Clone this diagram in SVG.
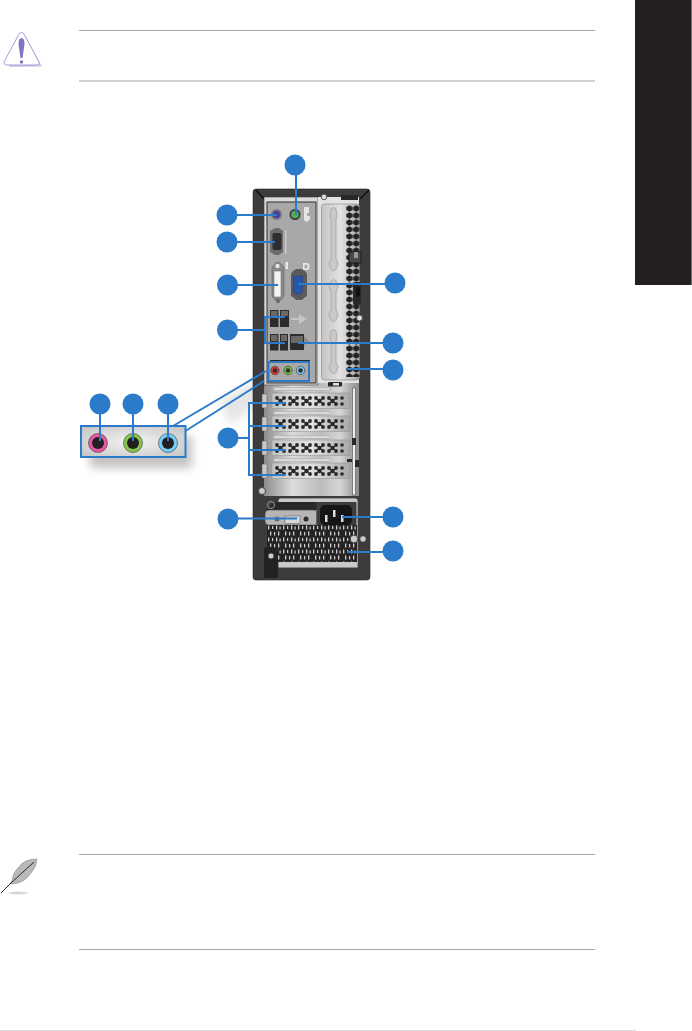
<svg xmlns="http://www.w3.org/2000/svg" width="692" height="1031" viewBox="0 0 692 1031">
<style>
.c{fill:#2b7bca}
.l{fill:none;stroke:#2b7bca;stroke-width:2}
.r{stroke:#a7a5a6;stroke-width:1;fill:none}
.d{fill:#2a2728}
</style>
<defs>
<linearGradient id="m" x1="0" x2="1" y1="0" y2="0"><stop offset="0" stop-color="#8f8e8e"/><stop offset=".3" stop-color="#dcdcdc"/><stop offset=".6" stop-color="#bcbcbc"/><stop offset=".8" stop-color="#d6d6d6"/><stop offset="1" stop-color="#8b8a8a"/></linearGradient>
<linearGradient id="s" x1="0" x2="1" y1="0" y2="0"><stop offset="0" stop-color="#c4c4c4"/><stop offset=".5" stop-color="#e2e2e2"/><stop offset="1" stop-color="#a8a8a8"/></linearGradient>
<radialGradient id="a" cx=".5" cy=".5" r=".7"><stop offset="0" stop-color="#f4f4f4"/><stop offset="1" stop-color="#c4c4c4"/></radialGradient>
<filter id="b" x="-20%" y="-40%" width="140%" height="180%"><feGaussianBlur stdDeviation="5"/></filter>
<pattern id="g" x="267" y="525" width="15" height="12" patternUnits="userSpaceOnUse"><rect width="15" height="12" fill="#262324"/><g fill="#cfcfcf"><rect x="1" y=".5" width="1.300" height="4"/><rect x="5" y="1" width="1.200" height="3"/><rect x="9" y=".5" width="1.300" height="4"/><rect x="12.500" y="1.500" width="1.200" height="3"/><rect x="3" y="6.500" width="1.300" height="4"/><rect x="7" y="7" width="1.200" height="3.500"/><rect x="11" y="6.500" width="1.300" height="4"/></g></pattern>
<pattern id="h" x="346" y="205" width="6.800" height="7" patternUnits="userSpaceOnUse"><path d="M3.400 .2L6.500 2V5L3.400 6.800L.3 5V2z" fill="#252223"/></pattern>
<g id="clu"><circle cx="0" cy="-3" r="1.900"/><circle cx="0" cy="3" r="1.900"/><circle cx="3.500" cy="0" r="2.300"/><circle cx="7" cy="-3" r="1.900"/><circle cx="7" cy="3" r="1.900"/><path d="M0-3L7 3M7-3L0 3" stroke="#2a2728"/></g>
<g id="slotv"><rect x="0" y="0" width="78" height="15.500" rx="1" fill="url(#s)" stroke="#8a8a8a" stroke-width=".5"/>
<g class="d"><use href="#clu" x="5" y="8"/><use href="#clu" x="18" y="8"/><use href="#clu" x="31" y="8"/><use href="#clu" x="44" y="8"/><use href="#clu" x="57" y="8"/><circle cx="70" cy="5" r="1.800"/><circle cx="70" cy="11" r="1.800"/></g></g>
<g id="tab"><rect width="5" height="14" rx="1" fill="#c9c9c9" stroke="#6a6a6a" stroke-width=".6"/></g>
<g id="rail"><path d="M0 1.500h54a1.500 1.500 0 0 1 0 3H0a1.500 1.500 0 0 1 0-3z" fill="#d9d9d9" stroke="#a3a3a3" stroke-width=".5"/></g>
</defs>

<rect width="692" height="1031" fill="#fff"/>
<g id="tab-side"><rect x="635" y="0" width="56" height="285" fill="#231f20"/><rect x="691" y="0" width="1" height="285" fill="#6d6b6c"/></g>
<g id="rules"><path class="r" d="M79 30.500H595M79 81H595M79 854.500H595M79 949.500H595"/><path d="M0 1030.500H636" stroke="#dcdcdc" fill="none"/></g>

<g id="warning-icon">
<path d="M24 34L42 66.500L9 67z" fill="#cfcbe6"/>
<path d="M21.500 32.500Q19.500 32.500 18.500 35L4.500 61Q3 65 7 65L37 65Q40 64.500 38.500 61L24.500 35Q23.500 32.500 21.500 32.500z" fill="#fff" stroke="#8e86c9" stroke-width=".8"/>
<path d="M21.500 38Q18.500 38 18.500 44L20.500 58H22.500L24.500 44Q24.500 38 21.500 38z" fill="#7d74c2"/>
<circle cx="21.500" cy="62" r="1.700" fill="#7d74c2"/>
</g>
<g id="note-icon">
<path d="M7 893q11-3 22 0q-10 3-22 0z" fill="#d5d5d5"/>
<path d="M37 859Q24 859 19 867Q13 872 12 881Q9 884 11 884Q24 884 31 873Q37 866 37 859z" fill="#b9b9b9" stroke="#8d8d8d" stroke-width=".6"/>
<path d="M1 893L12 882L34 862" stroke="#2a2728" stroke-width="1" fill="none"/>
</g>

<g id="audio-inset">
<rect x="90" y="436" width="102" height="32" fill="#9a9a9a" opacity=".6" filter="url(#b)"/>
<rect x="82" y="426.500" width="103.500" height="30.500" fill="url(#a)"/>
<circle cx="98" cy="443" r="9.500" fill="#e8569f" stroke="#3a3a3a" stroke-width=".6"/><circle cx="98" cy="443" r="6" fill="#231f20"/>
<circle cx="133" cy="443" r="9.500" fill="#86c64a" stroke="#3a3a3a" stroke-width=".6"/><circle cx="133" cy="443" r="6" fill="#231f20"/>
<circle cx="168" cy="443" r="9.500" fill="#76cdf2" stroke="#3a3a3a" stroke-width=".6"/><circle cx="168" cy="443" r="6" fill="#231f20"/>
</g>

<g id="chassis">
<path d="M220 400L262 378L268 398L230 425z" fill="#b5b5b5" opacity=".35" filter="url(#b)"/>
<rect x="253" y="189" width="117" height="391" rx="3" fill="#3d3b3c" stroke="#2a2829" stroke-width=".6"/>
<path d="M256 190l8 9M369 190l-9 9" stroke="#111" stroke-width="1.500"/>
<rect x="264" y="197" width="95" height="299" fill="url(#m)"/>
<rect x="264" y="197" width="54" height="188" fill="#d9d9d9" stroke="#3a3a3a" stroke-width=".6"/>
<rect x="267" y="202" width="49" height="181" fill="#a9a8a8" stroke="#232122" stroke-width=".9"/>
<rect x="318" y="197" width="41" height="186" fill="#e3e3e3"/>
<rect x="321.500" y="204" width="38" height="176" rx="3" fill="url(#s)" stroke="#858585" stroke-width=".6"/>
<rect x="341" y="195" width="17" height="5" fill="#2a2728"/>
<circle cx="324" cy="197" r="2.800" fill="#ddd" stroke="#5a5a5a"/>
<g fill="#c9c9c9" stroke="#969696" stroke-width=".6">
<path d="M331 209q2.500-3 5 0l1 7-1 3v40l2 5-2 5q-2.500 4-5 0l-2-5 2-5v-40l-1-3z"/>
<path d="M331 281q2.500-3 5 0l2 6-2 5v18l2 5-2 5q-2.500 4-5 0l-2-5 2-5v-18l-2-5z"/>
<path d="M331 331q2.500-3 5 0l1 7-1 3v21l2 5-2 5q-2.500 4-5 0l-2-5 2-5v-21l-1-3z"/>
</g>
<rect x="346" y="205" width="13.600" height="172" fill="url(#h)"/>
<path d="M349 252h12v11h-12z" fill="#4a4849" stroke="#1d1b1c"/>
<rect x="354" y="252" width="4" height="6" fill="#999"/>
<rect x="353" y="282" width="8" height="23" rx="2" fill="#2a2728"/><rect x="356" y="287" width="4" height="10" rx="2" fill="#111"/>
<circle cx="359.500" cy="318" r="3" fill="#e0e0e0" stroke="#4a4a4a"/>
<rect x="328" y="382" width="14" height="4.500" rx="1" fill="#2a2728"/>
<rect x="333" y="383" width="6" height="2.500" fill="#ddd"/>

<circle cx="276.500" cy="214.500" r="5.500" fill="#7c7a7b"/><circle cx="276.500" cy="214.500" r="3.800" fill="#4a3f9c"/>
<circle cx="295" cy="214.500" r="5.500" fill="#3d3b3c"/><circle cx="295" cy="214.500" r="3.800" fill="#52b052"/>
<path d="M304 207h5v6h-2v3h3v3l-3 3-3-2z" fill="#e5e5e5"/>
<path d="M270 231l5-3h4l4 3v21l-4 3h-4l-5-3z" fill="#6d6c6c"/>
<rect x="272.500" y="233" width="9" height="17" rx="2" fill="#2f2d2e"/>
<rect x="285" y="230" width="1.500" height="24" fill="#c8c8c8"/>
<path d="M272 267l4-4q2-2 4 0l4 4v29l-3 4h-6l-3-4z" fill="#8c8b8b" stroke="#5a5a5a" stroke-width=".5"/>
<rect x="274" y="271" width="7" height="26" fill="#f3f3f3" stroke="#666" stroke-width=".5"/>
<circle cx="277.500" cy="266" r="2.200" fill="#e5e5e5"/>
<rect x="285.500" y="262" width="2.500" height="7" fill="#e9e9e9"/>
<path d="M303 263h3q3.500 0 3.500 3.500T306 270h-3zm1.500 1.500v4h1.500q2 0 2-2t-2-2z" fill="#ececec"/>
<path d="M293 271l3-2h6l3 2 2 3v22l-3 2-2 2h-6l-2-2-3-2v-22z" fill="#5c5a5b"/>
<path d="M293.500 276h9v15l-2 3h-5l-2-3z" fill="#2a56a8" stroke="#1d3d80" stroke-width=".5"/>

<rect x="270" y="310" width="8.500" height="17" fill="#2d2b2c"/><rect x="280" y="310" width="9" height="17" fill="#2d2b2c"/>
<rect x="271" y="311" width="6.500" height="5" fill="#6a6868"/><rect x="281" y="311" width="7" height="5" fill="#6a6868"/>
<rect x="270" y="334" width="8.500" height="16.500" fill="#2d2b2c"/><rect x="280" y="334" width="8" height="16.500" fill="#2d2b2c"/>
<rect x="271" y="335" width="6.500" height="6" fill="#6a6868"/><rect x="281" y="335" width="6" height="6" fill="#6a6868"/>
<path d="M291 319h9M300 316l5 3-5 3z" stroke="#c6c6c6" stroke-width="2" fill="#c6c6c6"/>
<rect x="290" y="334" width="14" height="16" fill="#2d2b2c"/>
<rect x="291" y="336" width="12" height="7" fill="#6a6868"/>
<path d="M304 336l5 5-5 5z" fill="#8f8f8f"/>
<circle cx="278" cy="301" r="2" fill="#666"/>
<rect x="270" y="360" width="40" height="2" fill="#2a2728"/>
<circle cx="275" cy="370.500" r="4.200" fill="#e03b3b" stroke="#333" stroke-width=".6"/><circle cx="275" cy="370.500" r="2.300" fill="#312e2f"/>
<circle cx="288" cy="370.500" r="4.200" fill="#7ac143" stroke="#333" stroke-width=".6"/><circle cx="288" cy="370.500" r="2.300" fill="#312e2f"/>
<circle cx="300.500" cy="370.500" r="4.200" fill="#76cdf2" stroke="#333" stroke-width=".6"/><circle cx="300.500" cy="370.500" r="2.300" fill="#312e2f"/>

<use href="#rail" x="275" y="386"/><use href="#rail" x="275" y="410"/><use href="#rail" x="275" y="434"/><use href="#rail" x="275" y="457"/>
<use href="#tab" x="262" y="394"/><use href="#tab" x="262" y="417"/><use href="#tab" x="262" y="441"/><use href="#tab" x="262" y="464"/>
<use href="#slotv" x="272" y="393"/><use href="#slotv" x="272" y="416"/><use href="#slotv" x="272" y="440"/><use href="#slotv" x="272" y="463"/>
<path d="M352.500 388h3v107h-3z" fill="#eee" stroke="#4a4a4a" stroke-width=".6"/>
<rect x="352" y="438" width="4" height="7" fill="#2a2728"/><rect x="355" y="460" width="4" height="7" fill="#2a2728"/><rect x="347" y="459" width="5" height="3" fill="#2a2728"/>
<rect x="264" y="496" width="95" height="72" fill="#3d3b3c"/>
<rect x="278" y="498" width="80" height="72" rx="3" fill="#c9c9c9" stroke="#444" stroke-width=".8"/>
<path d="M266 510l8-8h43v8z" fill="#2a2728"/>
<rect x="265" y="510" width="52" height="15" rx="4" fill="#b5b5b5" stroke="#444" stroke-width=".6"/>
<rect x="285" y="516" width="15" height="7.500" fill="#d8d8d8" stroke="#555" stroke-width=".5"/>
<circle cx="277" cy="519" r="2.500" fill="#666"/><circle cx="306" cy="519" r="2.500" fill="#2f2d2e"/>
<rect x="316.500" y="502" width="40" height="26" fill="#3d3b3c"/>
<rect x="320" y="505" width="32" height="20" rx="5" fill="#161415"/>
<rect x="325" y="515" width="2.500" height="7" fill="#ddd"/><rect x="333" y="510" width="2.500" height="7" fill="#ddd"/><rect x="341" y="515" width="2.500" height="7" fill="#ddd"/>
<rect x="267" y="525" width="90" height="37" fill="url(#g)"/>
<circle cx="354" cy="539" r="3.800" fill="#ccc" stroke="#444" stroke-width=".9"/><circle cx="363" cy="539" r="3" fill="#ccc" stroke="#555" stroke-width=".6"/>
<path d="M264 552q4-4 9-4 5 0 5 6v24h-14z" fill="#232122"/>
<circle cx="271" cy="556" r="3" fill="#ccc" stroke="#444"/>
<rect x="264" y="568" width="95" height="10" fill="#3d3b3c"/><path d="M278 568H358" stroke="#444"/>
<path d="M264 548q4-2 9-1 5 1 5 7v24h-14z" fill="#232122"/><circle cx="271" cy="556" r="3" fill="#ccc" stroke="#444"/>
<circle cx="262" cy="491" r="3.500" fill="#ccc" stroke="#444"/>
<circle cx="271" cy="505" r="3.500" fill="none" stroke="#999"/>
</g>

<g id="connectors">
<path class="l" d="M296 165V215M227 215H277M227 242H275M228 285H278M298 284H395M228 330H265M285 317H265V343H285M298 343H393M347 369H393"/>
<rect class="l" x="268.500" y="362" width="40.500" height="19"/>
<rect class="l" x="81" y="426" width="104.500" height="31"/>
<path class="l" d="M173 426L266 371M185.500 431L264 381"/>
<path class="l" d="M100 404V441M133 404V441M168 404V441"/>
<path class="l" d="M228 438H249M286 403H249V475H285M249 426H285M249 450H286"/>
<path class="l" d="M228 518.500H297M342 517H393M347 552H393"/>
</g>

<g id="n1"><circle class="c" cx="295" cy="165" r="10.500"/></g>
<g id="n2"><circle class="c" cx="227" cy="215" r="10.500"/></g>
<g id="n3"><circle class="c" cx="227" cy="242" r="10.500"/></g>
<g id="n4"><circle class="c" cx="227.500" cy="285" r="10.500"/></g>
<g id="n5"><circle class="c" cx="227.500" cy="330" r="10.500"/></g>
<g id="n6"><circle class="c" cx="395" cy="283" r="10.500"/></g>
<g id="n7"><circle class="c" cx="393" cy="343" r="10.500"/></g>
<g id="n8"><circle class="c" cx="393" cy="370" r="10.500"/></g>
<g id="n9"><circle class="c" cx="100" cy="404" r="10.500"/></g>
<g id="n10"><circle class="c" cx="133" cy="404" r="10.500"/></g>
<g id="n11"><circle class="c" cx="168" cy="404" r="10.500"/></g>
<g id="n12"><circle class="c" cx="228" cy="438" r="10.500"/></g>
<g id="n13"><circle class="c" cx="228" cy="519" r="10.500"/></g>
<g id="n14"><circle class="c" cx="393" cy="517" r="10.500"/></g>
<g id="n15"><circle class="c" cx="393" cy="551" r="10.500"/></g>
</svg>
